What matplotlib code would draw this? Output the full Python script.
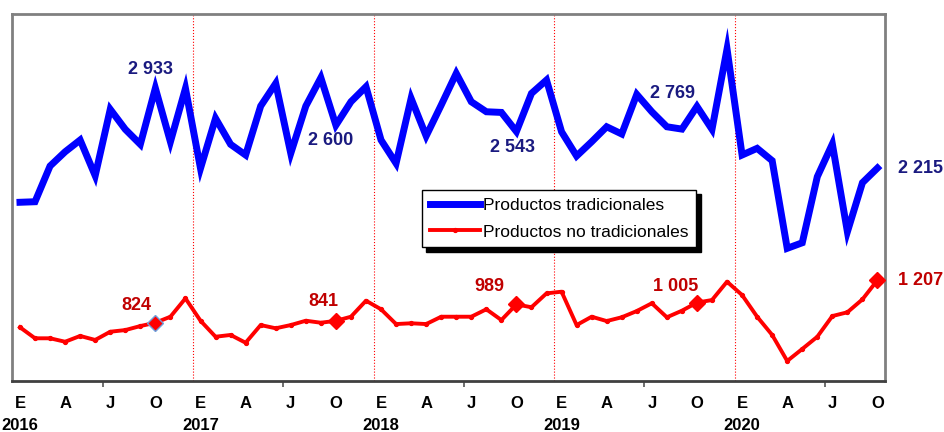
import matplotlib
matplotlib.use('Agg')
import matplotlib.pyplot as plt
import numpy as np

plt.rcParams['font.family'] = ['Liberation Sans', 'DejaVu Sans']

# monthly values, Jan 2016 - Oct 2020
tradicionales = [1907, 1912, 2233, 2361, 2467, 2146, 2743, 2563, 2428, 2933, 2451, 2931,
                 2212, 2662, 2428, 2332, 2772, 2976, 2347, 2772, 3027, 2600, 2811, 2946,
                 2467, 2257, 2841, 2503, 2781, 3066, 2811, 2721, 2715, 2543, 2886, 3006,
                 2541, 2323, 2451, 2586, 2521, 2877, 2721, 2586, 2565, 2769, 2563, 3285,
                 2332, 2392, 2281, 1493, 1543, 2137, 2431, 1642, 2083, 2215]
no_tradicionales = [783, 684, 684, 653, 705, 669, 743, 758, 794, 824, 878, 1043,
                    842, 698, 714, 644, 803, 774, 803, 842, 824, 841, 878, 1022,
                    945, 812, 819, 812, 878, 878, 878, 945, 848, 989, 963, 1088,
                    1103, 803, 878, 839, 873, 929, 999, 873, 932, 1005, 1028, 1193,
                    1073, 878, 714, 480, 588, 698, 884, 918, 1034, 1207]
meses = ['E', 'A', 'J', 'O']
anios = ['2016', '2017', '2018', '2019', '2020']

# highlighted points (index, label, offset in pixels)
etiquetas_trad = [(9, '2 933', (-5, 19)), (21, '2 600', (-5, -15)), (33, '2 543', (-4, -16)),
                  (45, '2 769', (-24, 13)), (57, '2 215', (43, 0))]
etiquetas_no_trad = [(9, '824', (-19, 17)), (21, '841', (-13, 19)), (33, '989', (-27, 18)),
                     (45, '1 005', (-21, 16)), (57, '1 207', (43, 0))]

x = np.arange(len(tradicionales))

fig = plt.figure(figsize=(9.44, 4.32), dpi=100)
ax = fig.add_axes([12 / 944, 51 / 432, 873 / 944, 367 / 432])

ax.plot(x, tradicionales, color='#0000FF', lw=5, solid_joinstyle='miter',
        label='Productos tradicionales', zorder=3)
ax.plot(x, no_tradicionales, color='#FF0000', lw=2.8, marker='o', markersize=2.8,
        label='Productos no tradicionales', zorder=3)

for i, txt, off in etiquetas_no_trad:
    edge = '#6fa0dc' if i == 9 else '#FF0000'
    ax.plot(x[i], no_tradicionales[i], marker='D', markersize=8.5, color='#FF0000',
            markeredgecolor=edge, markeredgewidth=1, zorder=4)
    ax.annotate(txt, (x[i], no_tradicionales[i]), xytext=off, textcoords='offset pixels',
                ha='center', va='center', fontsize=13, fontweight='bold', color='#C00000')

for i, txt, off in etiquetas_trad:
    ax.annotate(txt, (x[i], tradicionales[i]), xytext=off, textcoords='offset pixels',
                ha='center', va='center', fontsize=13, fontweight='bold', color='#1a1a80')

# year separators
for k in range(1, len(anios)):
    ax.axvline(12 * k - 0.5, color='#FF0000', lw=0.8, ls=':', zorder=1)

ax.set_xlim(-0.53, 57.5)
ax.set_ylim(300, 3600)
ax.set_yticks([])
ax.set_xticks([5.5 + 12 * k for k in range(len(anios))])
ax.set_xticklabels([])
ax.tick_params(axis='x', direction='out', length=4, width=1.2, color='#555555')

for side in ['left', 'right', 'top']:
    ax.spines[side].set_color('#808080')
    ax.spines[side].set_linewidth(2)
ax.spines['bottom'].set_color('#404040')
ax.spines['bottom'].set_linewidth(2)

tr = ax.get_xaxis_transform()
for k, anio in enumerate(anios):
    for j, m in enumerate(meses):
        idx = 12 * k + 3 * j
        if idx < len(tradicionales):
            ax.text(idx, -0.06, m, transform=tr, ha='center', va='center',
                    fontsize=12, fontweight='bold')
    ax.text(12 * k, -0.12, anio, transform=tr, ha='center', va='center',
            fontsize=12, fontweight='bold')

leg = ax.legend(loc='upper left', bbox_to_anchor=(0.47, 0.52), borderaxespad=0,
                fancybox=False, edgecolor='black', framealpha=1, fontsize=12.5,
                handlelength=2.9, handletextpad=0.15, borderpad=0.45, labelspacing=0.65,
                shadow={'color': 'black', 'alpha': 1, 'ox': 3, 'oy': -3})
leg.get_frame().set_linewidth(1)

fig.savefig('out.png', dpi=100)
